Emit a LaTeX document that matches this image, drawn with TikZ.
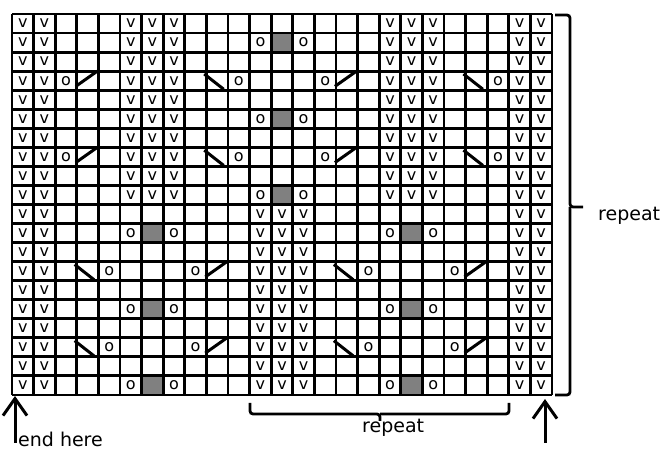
\documentclass[tikz,border=0pt]{standalone}
\usepackage{fontspec}
\setmainfont{DejaVu Sans}
\usetikzlibrary{arrows.meta}
\definecolor{stitchgrey}{RGB}{128,128,128}
\tikzset{
    gridline/.style={black,line width=2.9pt},
    stitch/.style={inner sep=0pt,font=\fontsize{16}{16}\selectfont},
    decline/.style={black,line width=3pt},
    bracket/.style={black,line width=2.8pt,rounded corners=3pt},
    notetext/.style={inner sep=0pt,font=\fontsize{19}{19}\selectfont},
    uparrow/.style={black,line width=3pt,-{Straight Barb[length=17pt,width=24pt]}}
}
\begin{document}
\begin{tikzpicture}[x=1pt,y=1pt]
        \useasboundingbox (0,0) rectangle (667,452);
        % Draw the chart, 25 stitches by 20 rows
        \begin{scope}[shift={(12pt,57pt)},x=21.6pt,y=19.05pt]
            % Grey cells (no stitch)
            \foreach \j in {10,14,18}
                \fill[stitchgrey] (12,\j) rectangle ++(1,1);
            \foreach \j in {0,4,8}
                \foreach \c in {6,18}
                    \fill[stitchgrey] (\c,\j) rectangle ++(1,1);
            % Grid lines
            \foreach \x in {0,1,...,25}
                \draw[gridline] (\x,0) -- (\x,20);
            \foreach \y in {0,1,...,20}
                \draw[gridline] (0,\y) -- (25,\y);
            % Slipped stitches, upper half
            \foreach \j in {10,...,19}
                \foreach \c in {0,1,5,6,7,17,18,19,23,24}
                    \node[stitch] (v-\c-\j) at (\c+0.5,\j+0.5) {v};
            % Slipped stitches, lower half
            \foreach \j in {0,...,9}
                \foreach \c in {0,1,11,12,13,23,24}
                    \node[stitch] (v-\c-\j) at (\c+0.5,\j+0.5) {v};
            % Yarn overs round the grey cells
            \foreach \j in {10,14,18}
                \foreach \c in {11,13}
                    \node[stitch] (o-\c-\j) at (\c+0.5,\j+0.5) {o};
            \foreach \j in {0,4,8}
                \foreach \c in {5,7,17,19}
                    \node[stitch] (o-\c-\j) at (\c+0.5,\j+0.5) {o};
            % Decrease rows, upper half
            \foreach \j in {12,16} {
                \foreach \c in {2,10,14,22}
                    \node[stitch] (o-\c-\j) at (\c+0.5,\j+0.5) {o};
                \foreach \c in {3,15}
                    \draw[decline] (\c-0.05,\j+0.2) -- (\c+0.95,\j+1);
                \foreach \c in {9,21}
                    \draw[decline] (\c-0.1,\j+0.85) -- (\c+0.8,\j+0.05);
            }
            % Decrease rows, lower half
            \foreach \j in {2,6} {
                \foreach \c in {4,8,16,20}
                    \node[stitch] (o-\c-\j) at (\c+0.5,\j+0.5) {o};
                \foreach \c in {9,21}
                    \draw[decline] (\c-0.05,\j+0.2) -- (\c+0.95,\j+1);
                \foreach \c in {3,15}
                    \draw[decline] (\c-0.1,\j+0.85) -- (\c+0.8,\j+0.05);
            }
        \end{scope}
        % Repeat brackets
        \draw[bracket] (555,437) -| (570,245) -- (583,245);
        \draw[bracket] (555,57) -| (570,245);
        \node[notetext,anchor=base west] (rowrepeat) at (598,231) {repeat};
        \draw[bracket] (250,49) |- (380,38) -- (380,31);
        \draw[bracket] (509,49) |- (380,38);
        \node[notetext,anchor=base west] (strepeat) at (362,19) {repeat};
        % Start and end arrows
        \coordinate (lefttail) at (15,9);
        \coordinate (lefthead) at (15,56);
        \coordinate (righttail) at (545,9);
        \coordinate (righthead) at (545,53);
        \draw[uparrow] (lefttail) -- (lefthead);
        \draw[uparrow] (righttail) -- (righthead);
        \node[notetext,anchor=base west] (endhere) at (18,5) {end here};
\end{tikzpicture}
\end{document}
